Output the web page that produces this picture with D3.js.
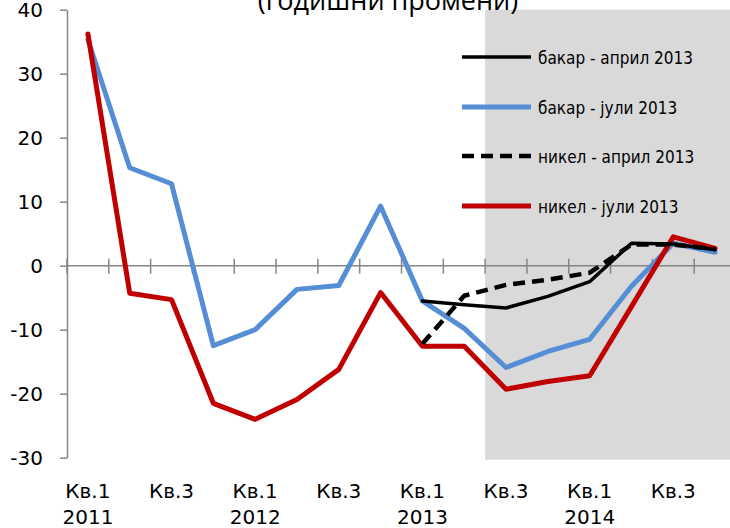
<!DOCTYPE html>
<html><head><meta charset="utf-8">
<script src="https://cdn.jsdelivr.net/npm/d3@7"></script>
<style>body{margin:0;background:#fff}svg{display:block}</style>
</head><body>
<svg id="c" width="730" height="528"></svg>
<script>
const quarters = ["2011Q1","2011Q2","2011Q3","2011Q4","2012Q1","2012Q2","2012Q3","2012Q4",
                  "2013Q1","2013Q2","2013Q3","2013Q4","2014Q1","2014Q2","2014Q3","2014Q4"];
const quarterLabels = ["Кв.1","","Кв.3","","Кв.1","","Кв.3","","Кв.1","","Кв.3","","Кв.1","","Кв.3",""];
const yearLabels = ["2011","","","","2012","","","","2013","","","","2014","","",""];
const copperJuly = [35.3,15.3,12.8,-12.5,-10.0,-3.7,-3.1,9.3,-5.5,-9.8,-15.9,-13.4,-11.5,-3.2,3.5,2.1];
const nickelJuly = [36.2,-4.3,-5.3,-21.5,-24.0,-20.9,-16.2,-4.2,-12.6,-12.6,-19.3,-18.1,-17.2,-6.4,4.5,2.7];
const copperApril = [null,null,null,null,null,null,null,null,-5.5,-6.1,-6.6,-4.8,-2.5,3.5,3.4,2.5];
const nickelApril = [null,null,null,null,null,null,null,null,-12.2,-4.7,-3.0,-2.2,-1.1,3.3,3.3,2.6];
const yTicks = [-30,-20,-10,0,10,20,30,40];
const forecastStart = "2013Q3";
const titleText = "(годишни промени)";
const series = [
  {name:"бакар - април 2013", values:copperApril, color:"#000000", width:3.5, dash:null},
  {name:"бакар - јули 2013", values:copperJuly, color:"#558ED5", width:5, dash:null},
  {name:"никел - април 2013", values:nickelApril, color:"#000000", width:4.5, dash:"12,7"},
  {name:"никел - јули 2013", values:nickelJuly, color:"#C00000", width:5, dash:null}
];
const drawOrder = [1,3,0,2];

const svg = d3.select("#c");
const x = d3.scaleBand().domain(quarters).range([67, 736]);
const y = d3.scaleLinear().domain([-30, 40]).range([457.7, 9.7]);
const cx = q => x(q) + x.bandwidth()/2;

// forecast shading
svg.append("rect")
  .attr("x", x(forecastStart)).attr("y", y(40))
  .attr("width", 736 - x(forecastStart)).attr("height", y(-30) - y(40) + 2)
  .attr("fill", "#d9d9d9");

// title
svg.append("text").attr("x", 388).attr("y", 10).attr("text-anchor","middle")
  .attr("font-family","'Open Sans', sans-serif").attr("font-size", 27).attr("fill","#000")
  .text(titleText);

// y axis
const yAxis = svg.append("g").attr("transform","translate(67,0)")
  .call(d3.axisLeft(y).tickValues(yTicks).tickFormat(d => String(d))
    .tickSize(7).tickPadding(17).tickSizeOuter(0));
yAxis.select(".domain").attr("stroke","#868686").attr("stroke-width",1.5);
yAxis.selectAll(".tick line").attr("stroke","#868686").attr("stroke-width",1.5);
yAxis.selectAll(".tick text").attr("font-family","'DejaVu Sans', sans-serif").attr("font-size",20).attr("fill","#000");

// x axis at zero
const xAxisG = svg.append("g").attr("transform",`translate(0,${y(0)})`);
xAxisG.append("line").attr("x1",67).attr("x2",736).attr("y1",0).attr("y2",0)
  .attr("stroke","#868686").attr("stroke-width",1.5);
const tickPos = quarters.map(q => x(q)).concat([736]);
xAxisG.selectAll("line.t").data(tickPos).join("line").attr("class","t")
  .attr("x1",d=>d).attr("x2",d=>d).attr("y1",-7).attr("y2",8)
  .attr("stroke","#868686").attr("stroke-width",1.5);

// x labels
const lab = svg.append("g").attr("font-family","'DejaVu Sans', sans-serif").attr("font-size",20)
  .attr("text-anchor","middle").attr("fill","#000");
lab.selectAll("text.q").data(quarters.filter((q,i)=>quarterLabels[i])).join("text").attr("class","q")
  .attr("x", q => cx(q)).attr("y", 498).text(q => quarterLabels[quarters.indexOf(q)]);
lab.selectAll("text.yr").data(quarters.filter((q,i)=>yearLabels[i])).join("text").attr("class","yr")
  .attr("x", q => cx(q)).attr("y", 524).text(q => yearLabels[quarters.indexOf(q)]);

// lines
const line = d3.line().defined(d => d.v !== null).x(d => cx(d.q)).y(d => y(d.v));
drawOrder.forEach(i => {
  const s = series[i];
  svg.append("path")
    .datum(quarters.map((q,k)=>({q, v:s.values[k]})))
    .attr("d", line).attr("fill","none")
    .attr("stroke", s.color).attr("stroke-width", s.width)
    .attr("stroke-linejoin","round").attr("stroke-linecap", s.dash ? "butt" : "round")
    .attr("stroke-dasharray", s.dash);
});

// legend
const leg = svg.append("g");
const legY = [57, 107, 156, 206];
series.forEach((s,i) => {
  leg.append("line").attr("x1",462).attr("x2",531).attr("y1",legY[i]).attr("y2",legY[i])
    .attr("stroke", s.color).attr("stroke-width", s.width).attr("stroke-dasharray", s.dash);
  leg.append("text").attr("x",538).attr("y",legY[i]).attr("dy","0.4em")
    .attr("font-family","'DejaVu Sans Condensed', 'DejaVu Sans', sans-serif")
    .attr("font-stretch","condensed").attr("font-size",17).attr("fill","#000")
    .text(s.name);
});
</script>
</body></html>
